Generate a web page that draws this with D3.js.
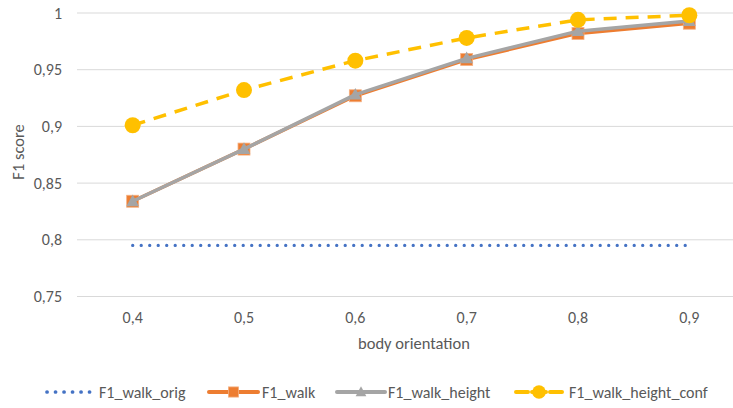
<!DOCTYPE html>
<html>
<head>
<meta charset="utf-8">
<script src="https://cdn.jsdelivr.net/npm/d3@7"></script>
<style>
  body { margin: 0; background: #fff; }
  svg { font-family: Carlito, Calibri, Lato, sans-serif; }
</style>
</head>
<body>
<svg id="chart" width="733" height="408"></svg>
<script>
const categories = ["0,4", "0,5", "0,6", "0,7", "0,8", "0,9"];
const yTicks = [0.75, 0.8, 0.85, 0.9, 0.95, 1];
const walkOrig = [0.795, 0.795, 0.795, 0.795, 0.795, 0.795];
const walk = [0.834, 0.880, 0.927, 0.959, 0.982, 0.991];
const walkHeight = [0.834, 0.880, 0.928, 0.960, 0.984, 0.993];
const walkHeightConf = [0.901, 0.932, 0.958, 0.978, 0.994, 0.998];

const series = [
    { name: "F1_walk_orig", values: walkOrig, color: "#4472C4", dash: "0.1 8.4", cap: "round", width: 3.2, marker: null },
    { name: "F1_walk", values: walk, color: "#ED7D31", dash: null, width: 3.5, marker: "square" },
    { name: "F1_walk_height", values: walkHeight, color: "#A5A5A5", dash: null, width: 3.5, marker: "triangle" },
    { name: "F1_walk_height_conf", values: walkHeightConf, color: "#FFC000", dash: "13 9", width: 3.5, marker: "circle" }
];

const svg = d3.select("#chart");
const plotLeft = 77, plotRight = 745, plotTop = 13, plotBottom = 296.5;
const textColor = "#595959";

const x = d3.scalePoint().domain(categories).range([plotLeft, plotRight]).padding(0.5);
const y = d3.scaleLinear().domain([0.75, 1]).range([plotBottom, plotTop]);

// gridlines
svg.append("g")
    .selectAll("line")
    .data(yTicks)
    .join("line")
    .attr("x1", plotLeft).attr("x2", 733)
    .attr("y1", d => y(d)).attr("y2", d => y(d))
    .attr("stroke", "#d9d9d9")
    .attr("stroke-width", 1);

const fmt = d => String(d).replace(".", ",");

// y tick labels
svg.append("g")
    .selectAll("text")
    .data(yTicks)
    .join("text")
    .attr("x", 62).attr("y", d => y(d) + 5.5)
    .attr("text-anchor", "end")
    .attr("font-size", 16)
    .attr("fill", textColor)
    .text(fmt);

// x tick labels
svg.append("g")
    .selectAll("text")
    .data(categories)
    .join("text")
    .attr("x", d => x(d)).attr("y", 323)
    .attr("text-anchor", "middle")
    .attr("font-size", 16)
    .attr("fill", textColor)
    .text(d => d);

svg.append("text")
    .attr("transform", "translate(24,152) rotate(-90)")
    .attr("text-anchor", "middle")
    .attr("font-size", 16.5)
    .attr("fill", textColor)
    .text("F1 score");

svg.append("text")
    .attr("x", 414).attr("y", 349)
    .attr("text-anchor", "middle")
    .attr("font-size", 16.5)
    .attr("fill", textColor)
    .text("body orientation");

const line = d3.line()
    .x((d, i) => x(categories[i]))
    .y(d => y(d));

function drawMarker(g, type, color, cx, cy, scale = 1) {
    if (type === "square") {
        const s = 12 * scale;
        g.append("rect").attr("x", cx - s / 2).attr("y", cy - s / 2)
            .attr("width", s).attr("height", s)
            .attr("fill", color).attr("stroke", "#F4B183").attr("stroke-width", 0.8);
    } else if (type === "triangle") {
        const s = 9 * scale;
        g.append("path")
            .attr("d", `M${cx},${cy - s * 0.75}L${cx + s * 0.7},${cy + s * 0.55}L${cx - s * 0.7},${cy + s * 0.55}Z`)
            .attr("fill", color);
    } else if (type === "circle") {
        g.append("circle").attr("cx", cx).attr("cy", cy).attr("r", 8 * scale).attr("fill", color);
    }
}

const plot = svg.append("g");
series.forEach(s => {
    const g = plot.append("g");
    g.append("path")
        .attr("d", line(s.values))
        .attr("fill", "none")
        .attr("stroke", s.color)
        .attr("stroke-width", s.width)
        .attr("stroke-dasharray", s.dash)
        .attr("stroke-linecap", s.cap || "butt")
        .attr("stroke-linejoin", "round");
    if (s.marker) {
        s.values.forEach((v, i) => drawMarker(g, s.marker, s.color, x(categories[i]), y(v)));
    }
});

// legend
const legendItems = [
    { x1: 47, x2: 92, tx: 99 },
    { x1: 209, x2: 258, tx: 262 },
    { x1: 337, x2: 385, tx: 388 },
    { x1: 516, x2: 562, tx: 569 }
];
const ly = 392;
const legend = svg.append("g");
series.forEach((s, i) => {
    const it = legendItems[i];
    legend.append("line")
        .attr("x1", it.x1).attr("x2", it.x2)
        .attr("y1", ly).attr("y2", ly)
        .attr("stroke", s.color)
        .attr("stroke-width", s.width + 0.5)
        .attr("stroke-dasharray", s.marker === "circle" ? "12 4 14 4 12" : s.dash)
        .attr("stroke-linecap", s.cap || "round");
    if (s.marker) drawMarker(legend, s.marker, s.color, (it.x1 + it.x2) / 2, ly, 0.85);
    legend.append("text")
        .attr("x", it.tx).attr("y", ly + 5.5)
        .attr("font-size", 16)
        .attr("fill", textColor)
        .text(s.name);
});
</script>
</body>
</html>
